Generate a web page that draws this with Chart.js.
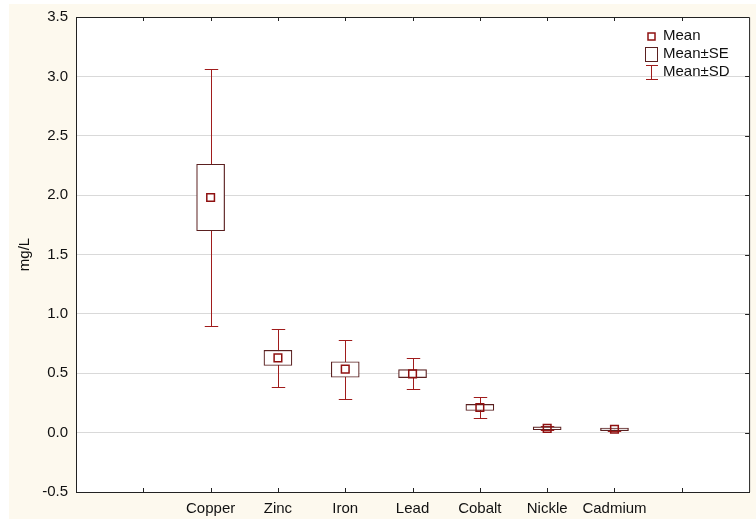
<!DOCTYPE html>
<html>
<head>
<meta charset="utf-8">
<script src="https://cdn.jsdelivr.net/npm/chart.js@4.4.0/dist/chart.umd.min.js"></script>
<style>
  html, body { margin: 0; padding: 0; background: #fff; }
  #wrap { width: 756px; height: 519px; }
</style>
</head>
<body>
<div id="wrap"><canvas id="c" width="756" height="519"></canvas></div>
<script>
// values (mg/L)
const metals = ["Copper", "Zinc", "Iron", "Lead", "Cobalt", "Nickle", "Cadmium"];
const xPos   = [2, 3, 4, 5, 6, 7, 8];
const means  = [1.98, 0.630, 0.535, 0.495, 0.212, 0.036, 0.028];
const seLow  = [1.70, 0.565, 0.466, 0.463, 0.186, 0.024, 0.017];
const seHigh = [2.26, 0.693, 0.597, 0.530, 0.238, 0.048, 0.039];
const sdLow  = [0.90, 0.382, 0.281, 0.365, 0.120, 0.020, 0.013];
const sdHigh = [3.06, 0.875, 0.783, 0.626, 0.300, 0.052, 0.043];
const yTicks = [-0.5, 0, 0.5, 1.0, 1.5, 2.0, 2.5, 3.0, 3.5];

const FONT = '"Liberation Sans", Arial, sans-serif';
const WHISKER = "#a01c1c";
const BOX = "#5a2020";
const MEAN = "#8e1010";

const bgPlugin = {
  id: "bg",
  beforeDraw(chart) {
    const { ctx, chartArea: a } = chart;
    ctx.save();
    ctx.fillStyle = "#fff";
    ctx.fillRect(0, 0, chart.width, chart.height);
    ctx.fillStyle = "#fdf9ee";
    ctx.fillRect(9, 4, chart.width - 9, chart.height - 4);
    ctx.fillStyle = "#fff";
    ctx.fillRect(a.left, a.top, a.right - a.left, a.bottom - a.top);
    ctx.restore();
  }
};

// SD whiskers, drawn under the SE boxes
const whiskerPlugin = {
  id: "whiskers",
  beforeDatasetsDraw(chart) {
    const { ctx, scales: { x, y } } = chart;
    ctx.save();
    ctx.strokeStyle = WHISKER;
    ctx.lineWidth = 1;
    xPos.forEach((v, i) => {
      const px = Math.round(x.getPixelForValue(v)) + 0.5;
      const cap = x.getPixelForValue(v + 0.1) - x.getPixelForValue(v);
      const lo = Math.round(y.getPixelForValue(sdLow[i])) + 0.5;
      const hi = Math.round(y.getPixelForValue(sdHigh[i])) + 0.5;
      ctx.beginPath();
      ctx.moveTo(px, lo); ctx.lineTo(px, hi);
      ctx.moveTo(px - cap, lo); ctx.lineTo(px + cap, lo);
      ctx.moveTo(px - cap, hi); ctx.lineTo(px + cap, hi);
      ctx.stroke();
    });
    ctx.restore();
  }
};

// top/right frame, inward ticks, legend box
const framePlugin = {
  id: "frame",
  afterDraw(chart) {
    const { ctx, chartArea: a, scales: { x, y } } = chart;
    ctx.save();
    ctx.strokeStyle = "#222";
    ctx.lineWidth = 1;
    ctx.beginPath();
    ctx.moveTo(a.left, a.top + 0.5); ctx.lineTo(a.right + 0.5, a.top + 0.5);
    ctx.lineTo(a.right + 0.5, a.bottom);
    for (let v = 1; v <= 9; v++) {
      const px = Math.round(x.getPixelForValue(v)) + 0.5;
      ctx.moveTo(px, a.top); ctx.lineTo(px, a.top + 4);
      ctx.moveTo(px, a.bottom); ctx.lineTo(px, a.bottom - 4);
    }
    yTicks.slice(1, -1).forEach(v => {
      const py = Math.round(y.getPixelForValue(v)) + 0.5;
      ctx.moveTo(a.right, py); ctx.lineTo(a.right - 4, py);
    });
    ctx.stroke();

    // legend
    const lx = 651;
    ctx.font = "15px " + FONT;
    ctx.fillStyle = "#111";
    ctx.textBaseline = "middle";
    ctx.fillText("Mean", 663, 36);
    ctx.fillText("Mean\u00b1SE", 663, 54);
    ctx.fillText("Mean\u00b1SD", 663, 72);
    ctx.strokeStyle = MEAN;
    ctx.lineWidth = 1.5;
    ctx.strokeRect(lx - 3, 33, 7, 7);
    ctx.strokeStyle = BOX;
    ctx.lineWidth = 1;
    ctx.strokeRect(lx - 5.5, 47.5, 12, 14);
    ctx.strokeStyle = WHISKER;
    ctx.beginPath();
    ctx.moveTo(lx - 5, 65.5); ctx.lineTo(lx + 7, 65.5);
    ctx.moveTo(lx + 0.5, 65.5); ctx.lineTo(lx + 0.5, 79.5);
    ctx.moveTo(lx - 5, 79.5); ctx.lineTo(lx + 7, 79.5);
    ctx.stroke();
    ctx.restore();
  }
};

new Chart(document.getElementById("c"), {
  type: "scatter",
  data: {
    datasets: [
      {
        label: "Mean",
        data: xPos.map((v, i) => ({ x: v, y: means[i] })),
        pointStyle: "rect",
        pointRadius: 5.4,
        borderWidth: 1.5,
        borderColor: MEAN,
        backgroundColor: "rgba(255,255,255,0)",
        order: 1
      },
      {
        type: "bar",
        label: "Mean\u00b1SE",
        data: xPos.map((v, i) => ({ x: v, y: [seLow[i], seHigh[i]] })),
        barThickness: 28,
        backgroundColor: "#fff",
        borderColor: BOX,
        borderWidth: 1.2,
        borderSkipped: false,
        order: 2
      }
    ]
  },
  options: {
    responsive: false,
    animation: false,
    devicePixelRatio: 1,
    layout: { padding: { top: 17, right: 5, bottom: 0, left: 0 } },
    plugins: { legend: { display: false }, tooltip: { enabled: false } },
    scales: {
      x: {
        type: "linear",
        min: 0, max: 10,
        offset: false,
        grid: { display: false, offset: false, drawTicks: false },
        border: { display: true, color: "#222" },
        afterFit: s => { s.height = 27; },
        afterBuildTicks: s => { s.ticks = xPos.map(v => ({ value: v })); },
        ticks: {
          autoSkip: false, maxRotation: 0, padding: 8,
          color: "#111", font: { family: FONT, size: 15 },
          callback: v => metals[xPos.indexOf(v)] || ""
        }
      },
      y: {
        type: "linear",
        min: -0.5, max: 3.5,
        afterFit: s => { s.width = 76; },
        afterBuildTicks: s => { s.ticks = yTicks.map(v => ({ value: v })); },
        grid: {
          drawTicks: false,
          color: c => (c.tick && (c.tick.value === -0.5 || c.tick.value === 3.5)) ? "rgba(0,0,0,0)" : "#d9d9d9"
        },
        border: { display: true, color: "#222" },
        ticks: {
          padding: 8, color: "#111", font: { family: FONT, size: 15 },
          callback: v => Number(v).toFixed(1)
        },
        title: {
          display: true, text: "mg/L", color: "#111",
          font: { family: FONT, size: 15 },
          padding: { top: 16, bottom: 0 }
        }
      }
    }
  },
  plugins: [bgPlugin, whiskerPlugin, framePlugin]
});
</script>
</body>
</html>
